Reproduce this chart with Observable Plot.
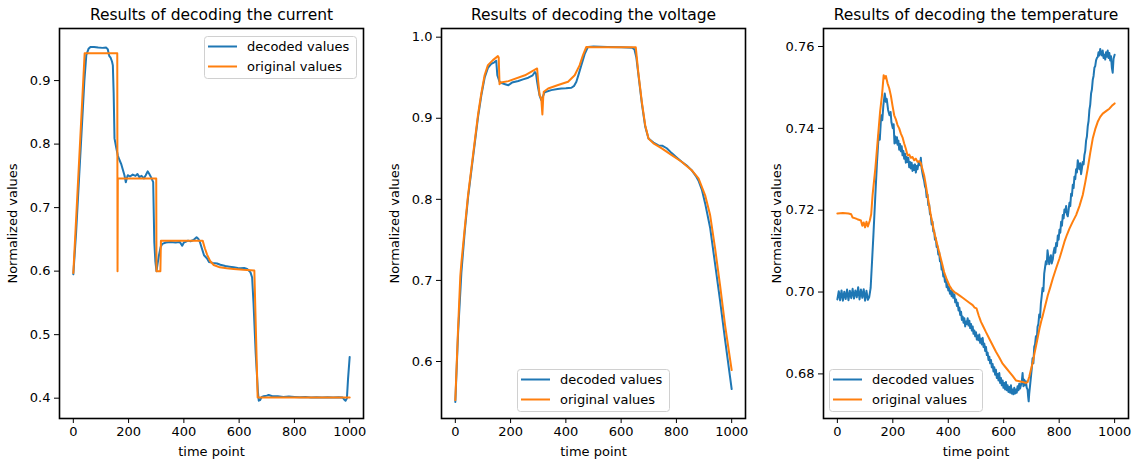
<!DOCTYPE html>
<html>
<head>
<meta charset="utf-8">
<script src="https://cdn.jsdelivr.net/npm/d3@7"></script>
<script src="https://cdn.jsdelivr.net/npm/@observablehq/plot@0.6"></script>
<style>
  body { margin: 0; background: white; }
  #wrap { position: relative; width: 1136px; height: 463px; font-family: "DejaVu Sans", sans-serif; }
  #wrap > svg { position: absolute; top: 0; }
</style>
</head>
<body>
<div id="wrap"></div>
<script>
// ---------- data (time point, normalized value) ----------
const titles = ["Results of decoding the current", "Results of decoding the voltage", "Results of decoding the temperature"];
const seriesNames = ["decoded values", "original values"];
const xTicks = [0, 200, 400, 600, 800, 1000];
const yTicksCurrent = [0.4, 0.5, 0.6, 0.7, 0.8, 0.9];
const yTicksVoltage = [0.6, 0.7, 0.8, 0.9, 1.0];
const yTicksTemp = [0.68, 0.70, 0.72, 0.74, 0.76];

const currentDecoded = [
  [0,0.595],[10,0.66],[20,0.74],[30,0.82],[40,0.90],[47,0.940],[55,0.950],[62,0.953],[75,0.953],[90,0.952],
  [105,0.9515],[119,0.952],[125,0.949],[128,0.942],[131,0.938],[135,0.936],[140,0.930],[143,0.924],[146,0.880],
  [149,0.809],[155,0.795],[161,0.782],[167,0.775],[173,0.769],[179,0.760],[185,0.751],[190,0.740],[194,0.747],
  [197,0.751],[205,0.749],[215,0.752],[225,0.750],[232,0.753],[239,0.748],[247,0.750],[255,0.746],[262,0.751],
  [269,0.757],[275,0.753],[281,0.748],[289,0.740],[293,0.646],[297,0.615],[301,0.600],[305,0.612],[310,0.625],
  [316,0.638],[322,0.643],[335,0.645],[352,0.646],[370,0.645],[385,0.646],[394,0.640],[400,0.645],[406,0.646],
  [415,0.648],[424,0.647],[435,0.649],[446,0.6533],[452,0.651],[458,0.646],[465,0.636],[473,0.625],[484,0.620],
  [491,0.6145],[505,0.613],[520,0.612],[532,0.610],[550,0.608],[565,0.607],[580,0.606],[595,0.605],[605,0.6045],
  [618,0.605],[629,0.6035],[641,0.598],[647,0.590],[652,0.550],[660,0.470],[668,0.410],[671,0.396],[676,0.397],
  [682,0.402],[689,0.403],[700,0.404],[707,0.405],[720,0.403],[740,0.403],[760,0.402],[780,0.4025],[800,0.402],
  [820,0.4015],[840,0.402],[860,0.401],[880,0.4015],[900,0.401],[920,0.4015],[940,0.401],[960,0.4015],[975,0.401],
  [980,0.398],[985,0.396],[990,0.400],[994,0.430],[1000,0.465]
];
const currentOriginal = [
  [0,0.597],[41,0.943],[159,0.943],[160,0.600],[161,0.746],[300,0.746],[301,0.600],[315,0.600],[317,0.648],
  [468,0.648],[476,0.636],[484,0.626],[495,0.616],[508,0.6097],[530,0.606],[555,0.6045],[580,0.6035],[615,0.602],
  [655,0.601],[667,0.401],[1000,0.401]
];
const voltageDecoded = [
  [0,0.550],[10,0.635],[22,0.710],[34,0.760],[46,0.802],[58,0.835],[70,0.868],[82,0.901],[94,0.928],[106,0.950],
  [118,0.962],[130,0.967],[141,0.969],[148,0.971],[152,0.953],[160,0.945],[170,0.943],[180,0.942],[192,0.9408],
  [205,0.944],[228,0.946],[245,0.948],[264,0.950],[280,0.953],[288,0.957],[292,0.955],[296,0.945],[300,0.937],
  [305,0.928],[311,0.9224],[317,0.927],[323,0.932],[347,0.9347],[370,0.936],[384,0.9367],[400,0.937],[420,0.9376],
  [430,0.940],[438,0.945],[447,0.955],[456,0.9655],[468,0.979],[480,0.988],[500,0.9885],[550,0.988],[600,0.9875],
  [640,0.987],[648,0.985],[655,0.975],[662,0.955],[675,0.918],[687,0.890],[699,0.875],[717,0.870],[735,0.8665],
  [750,0.866],[765,0.863],[783,0.857],[800,0.852],[819,0.8464],[840,0.841],[855,0.836],[870,0.829],[880,0.823],
  [892,0.812],[904,0.795],[922,0.765],[940,0.720],[958,0.675],[976,0.627],[1000,0.566]
];
const voltageOriginal = [
  [0,0.5524],[10,0.641],[18,0.705],[22,0.722],[34,0.764],[46,0.805],[58,0.838],[70,0.871],[82,0.904],[94,0.9306],
  [106,0.953],[118,0.9655],[136,0.9717],[154,0.9766],[157,0.975],[160,0.942],[165,0.944],[192,0.9458],[252,0.953],
  [296,0.9614],[300,0.945],[305,0.9285],[311,0.9244],[315,0.9047],[318,0.925],[320,0.9327],[336,0.9367],[372,0.941],
  [408,0.945],[432,0.953],[450,0.9655],[462,0.978],[474,0.988],[500,0.9875],[600,0.9875],[653,0.9875],[662,0.957],
  [675,0.920],[687,0.8915],[699,0.875],[717,0.869],[747,0.8628],[783,0.8545],[819,0.8464],[855,0.836],[880,0.8258],
  [904,0.805],[922,0.7806],[940,0.7395],[958,0.694],[976,0.645],[1000,0.5894]
];
const tempDecoded = [
  [0,0.6982],[5,0.7002],[10,0.6980],[15,0.7004],[20,0.6979],[25,0.7001],[30,0.6983],[35,0.7006],[40,0.6980],
  [45,0.7003],[50,0.6985],[55,0.7008],[60,0.6984],[65,0.7004],[70,0.6987],[75,0.7012],[80,0.6982],[85,0.7006],
  [90,0.6986],[95,0.7007],[100,0.6979],[105,0.7003],[110,0.6981],[115,0.6988],[120,0.7010],[125,0.7074],[130,0.7139],[137,0.7237],
  [143,0.7318],[149,0.7383],[153,0.7372],[158,0.7432],[162,0.7420],[166,0.7457],[171,0.7485],[175,0.7465],[178,0.7472],[183,0.7445],[188,0.7432],[192,0.7440],[195,0.7415],
  [200,0.7400],[203,0.7410],[206,0.7363],[209,0.7380],[212,0.7365],[215,0.7378],[217,0.7360],[220,0.7370],[223,0.7348],[226,0.7362],[229,0.7344],[232,0.7356],[235,0.7334],[238,0.7345],[241,0.7326],
  [244,0.7338],[247,0.7316],[250,0.7330],[253,0.7318],[256,0.7328],[259,0.7305],[262,0.7318],[265,0.7302],[268,0.7316],[271,0.7296],[274,0.7310],[277,0.7298],[280,0.7312],[283,0.7292],[286,0.7308],[289,0.7300],
  [292,0.7312],[295,0.7318],[298,0.7310],[301,0.7328],[304,0.7302],[307,0.7290],[310,0.7280],[313,0.7272],[316,0.7258],[319,0.7253],[322,0.7232],[325,0.7238],[328,0.7212],[331,0.7215],[334,0.7190],[337,0.7188],
  [340,0.7165],[343,0.7172],[346,0.7148],[349,0.7150],[352,0.7128],[355,0.7132],[358,0.7110],[361,0.7112],[364,0.7092],[367,0.7098],[370,0.7075],[373,0.7078],[376,0.7055],[379,0.7058],[382,0.7038],[385,0.7044],
  [388,0.7025],[391,0.7032],[394,0.7012],[397,0.7020],[400,0.7004],[403,0.7012],[406,0.6996],[409,0.7003],[412,0.6990],[415,0.7004],[418,0.6986],[422,0.6994],[425,0.6975],[428,0.6982],[431,0.6966],[434,0.6974],
  [437,0.6955],[440,0.6962],[443,0.6944],[446,0.6952],[449,0.6932],[452,0.6940],[455,0.6925],[458,0.6936],[461,0.6916],[464,0.6928],[467,0.6922],[470,0.6936],[473,0.6918],[476,0.6930],[479,0.6912],[482,0.6922],
  [485,0.6906],[488,0.6916],[491,0.6898],[494,0.6906],[497,0.6892],[500,0.6902],[503,0.6884],[506,0.6894],[509,0.6882],[512,0.6896],[515,0.6876],[518,0.6886],[521,0.6872],[524,0.6888],[527,0.6866],[530,0.6874],
  [533,0.6856],[536,0.6866],[539,0.6846],[542,0.6852],[545,0.6834],[548,0.6842],[551,0.6826],[554,0.6834],[557,0.6816],[560,0.6824],[563,0.6806],[566,0.6816],[569,0.6798],[572,0.6810],[575,0.6790],[578,0.6800],
  [581,0.6784],[584,0.6802],[587,0.6778],[590,0.6790],[593,0.6772],[596,0.6784],[599,0.6766],[602,0.6778],[605,0.6762],[608,0.6780],[611,0.6760],[614,0.6772],[617,0.6756],[620,0.6768],[623,0.6754],[626,0.6772],
  [629,0.6752],[632,0.6762],[635,0.6750],[638,0.6766],[641,0.6752],[644,0.6762],[647,0.6754],[650,0.6770],[653,0.6760],[656,0.6776],[659,0.6764],[662,0.6772],[665,0.6780],[668,0.6802],[671,0.6770],[674,0.6786],
  [677,0.6772],[680,0.6782],[683,0.6766],[686,0.6762],[688,0.6745],[690,0.6733],[692,0.6752],[694,0.6765],[698,0.6792],[701,0.6812],[704,0.6838],[707,0.6826],[710,0.6866],[713,0.6872],[716,0.6892],[719,0.6880],
  [722,0.6915],[725,0.6922],[728,0.6945],[731,0.6938],[734,0.6972],[737,0.6990],[740,0.7010],[743,0.7002],[746,0.7045],[749,0.7060],[752,0.7075],[755,0.7068],[758,0.7102],[761,0.7085],[764,0.7068],[767,0.7082],
  [770,0.7090],[773,0.7070],[777,0.7080],[780,0.7098],[783,0.7108],[786,0.7096],[789,0.7120],[792,0.7112],[795,0.7138],[798,0.7128],[801,0.7152],[804,0.7145],[807,0.7172],[810,0.7162],[813,0.7188],[816,0.7180],
  [819,0.7202],[822,0.7195],[825,0.7210],[828,0.7190],[831,0.7185],[834,0.7200],[837,0.7218],[840,0.7210],[843,0.7240],[846,0.7235],[849,0.7262],[852,0.7254],[855,0.7282],[858,0.7276],[861,0.7300],[864,0.7292],
  [867,0.7322],[870,0.7310],[873,0.7300],[876,0.7315],[879,0.7288],[882,0.7302],[885,0.7318],[888,0.7312],[891,0.7335],[894,0.7345],[897,0.7370],[900,0.7380],[903,0.7405],[906,0.7418],[909,0.7445],[912,0.7458],
  [915,0.7485],[918,0.7495],[921,0.7518],[924,0.7528],[927,0.7548],[930,0.7552],[933,0.7566],[936,0.7572],[939,0.7574],[942,0.7586],[945,0.7578],[948,0.7594],[951,0.7584],[954,0.7578],[957,0.7590],[960,0.7572],
  [963,0.7580],[966,0.7568],[969,0.7586],[972,0.7575],[975,0.7590],[978,0.7572],[981,0.7584],[984,0.7566],[987,0.7576],[990,0.7548],[993,0.7536],[996,0.7570],[1000,0.7580]
];
const tempOriginal = [
  [0,0.7192],[20,0.7193],[40,0.7192],[50,0.7190],[55,0.7182],[65,0.7180],[72,0.7178],[85,0.7175],[90,0.7162],
  [95,0.7170],[100,0.7158],[105,0.7172],[110,0.7160],[117,0.7175],[122,0.7190],[127,0.7237],[137,0.7302],
  [145,0.7367],[154,0.7440],[161,0.7481],[167,0.7530],[172,0.7522],[175,0.7528],[181,0.7510],[187,0.7498],
  [193,0.7480],[199,0.7455],[205,0.7432],[211,0.7422],[217,0.7408],[223,0.7400],[229,0.7387],[235,0.7378],
  [241,0.7363],[247,0.7350],[253,0.7334],[259,0.7336],[265,0.7328],[271,0.7330],[277,0.7322],[283,0.7326],
  [289,0.7318],[295,0.7320],[301,0.7315],[307,0.7300],[313,0.7285],[319,0.7262],[325,0.7236],[331,0.7212],
  [337,0.7188],[343,0.7168],[349,0.7147],[355,0.7130],[361,0.7114],[367,0.7098],[373,0.7082],[379,0.7066],
  [385,0.7049],[395,0.7030],[404,0.7016],[413,0.7006],[422,0.7000],[431,0.6996],[440,0.6992],[452,0.6986],
  [464,0.6980],[476,0.6974],[488,0.6968],[495,0.6962],[502,0.6960],[510,0.6942],[518,0.6927],[524,0.6919],
  [536,0.6902],[548,0.6886],[560,0.6870],[572,0.6854],[584,0.6840],[596,0.6825],[608,0.6815],[620,0.6805],
  [632,0.6795],[644,0.6784],[656,0.6782],[668,0.6780],[680,0.6778],[686,0.6780],[692,0.6793],[698,0.6810],
  [705,0.6829],[711,0.6850],[717,0.6870],[723,0.6890],[729,0.6911],[735,0.6928],[741,0.6943],[750,0.6968],
  [759,0.6992],[768,0.7012],[777,0.7033],[789,0.7058],[801,0.7082],[810,0.7102],[819,0.7123],[828,0.7140],
  [837,0.7155],[849,0.7172],[861,0.7188],[873,0.7210],[885,0.7237],[894,0.7268],[903,0.7302],[912,0.7340],
  [921,0.7375],[930,0.7398],[939,0.7416],[948,0.7428],[957,0.7436],[969,0.7442],[981,0.7448],[990,0.7455],
  [1000,0.7461]
];

// ---------- layout ----------
const BLUE = "#1f77b4", ORANGE = "#ff7f0e";
const panels = [
  {title: titles[0], dec: currentDecoded, orig: currentOriginal, yDomain: [0.368, 0.982], yTicks: yTicksCurrent, fmt: d => d.toFixed(1),
   left: 0, mL: 59, mR: 15, legend: {x: 204, y: 36, w: 152}},
  {title: titles[1], dec: voltageDecoded, orig: voltageOriginal, yDomain: [0.5297, 1.0107], yTicks: yTicksVoltage, fmt: d => d.toFixed(1),
   left: 380, mL: 61, mR: 13, legend: {x: 137, y: 369, w: 152}},
  {title: titles[2], dec: tempDecoded, orig: tempOriginal, yDomain: [0.6691, 0.7644], yTicks: yTicksTemp, fmt: d => d.toFixed(2),
   left: 758, mL: 65, mR: 8, legend: {x: 71, y: 369, w: 153}}
];

const wrap = document.getElementById("wrap");
for (const p of panels) {
  const toRows = (arr) => arr.map(([t, v]) => ({t, v}));
  const svg = Plot.plot({
    width: 378, height: 463,
    marginLeft: p.mL, marginRight: p.mR, marginTop: 28, marginBottom: 45,
    style: {fontFamily: "DejaVu Sans, sans-serif", fontSize: "13px", color: "black", background: "white", overflow: "visible"},
    x: {domain: [-50, 1050]},
    y: {domain: p.yDomain},
    marks: [
      Plot.axisX(xTicks, {tickSize: 5, tickPadding: 3, tickFormat: d => String(d), label: "time point", labelArrow: "none", labelAnchor: "center", labelOffset: 37, fontSize: 13}),
      Plot.axisY(p.yTicks, {tickSize: 5, tickPadding: 4, tickFormat: p.fmt, label: "Normalized values", labelAnchor: "center", labelArrow: "none", labelOffset: 52, fontSize: 13}),
      Plot.line(toRows(p.dec), {x: "t", y: "v", stroke: BLUE, strokeWidth: 2}),
      Plot.line(toRows(p.orig), {x: "t", y: "v", stroke: ORANGE, strokeWidth: 2}),
      Plot.frame({stroke: "black", strokeWidth: 1.6}),
      Plot.text([p.title], {frameAnchor: "top", dy: -13, fontSize: 15.5, fill: "black", lineAnchor: "middle"})
    ]
  });
  svg.style.left = p.left + "px";
  wrap.appendChild(svg);

  // legend box (layout only)
  const g = d3.select(svg).append("g").attr("text-anchor", "start");
  const L = p.legend;
  g.append("rect").attr("x", L.x + 0.5).attr("y", L.y + 0.5).attr("width", L.w).attr("height", 42)
    .attr("rx", 3).attr("fill", "white").attr("fill-opacity", 0.8).attr("stroke", "#d0d0d0").attr("stroke-width", 1);
  [[BLUE, seriesNames[0]], [ORANGE, seriesNames[1]]].forEach(([c, name], i) => {
    const yy = L.y + 10.5 + i * 20;
    g.append("line").attr("x1", L.x + 4).attr("x2", L.x + 33).attr("y1", yy).attr("y2", yy)
      .attr("stroke", c).attr("stroke-width", 2);
    g.append("text").attr("x", L.x + 43).attr("y", yy).attr("dy", "0.35em").attr("text-anchor", "start")
      .attr("font-size", 13).attr("fill", "black").text(name);
  });
}
</script>
</body>
</html>
